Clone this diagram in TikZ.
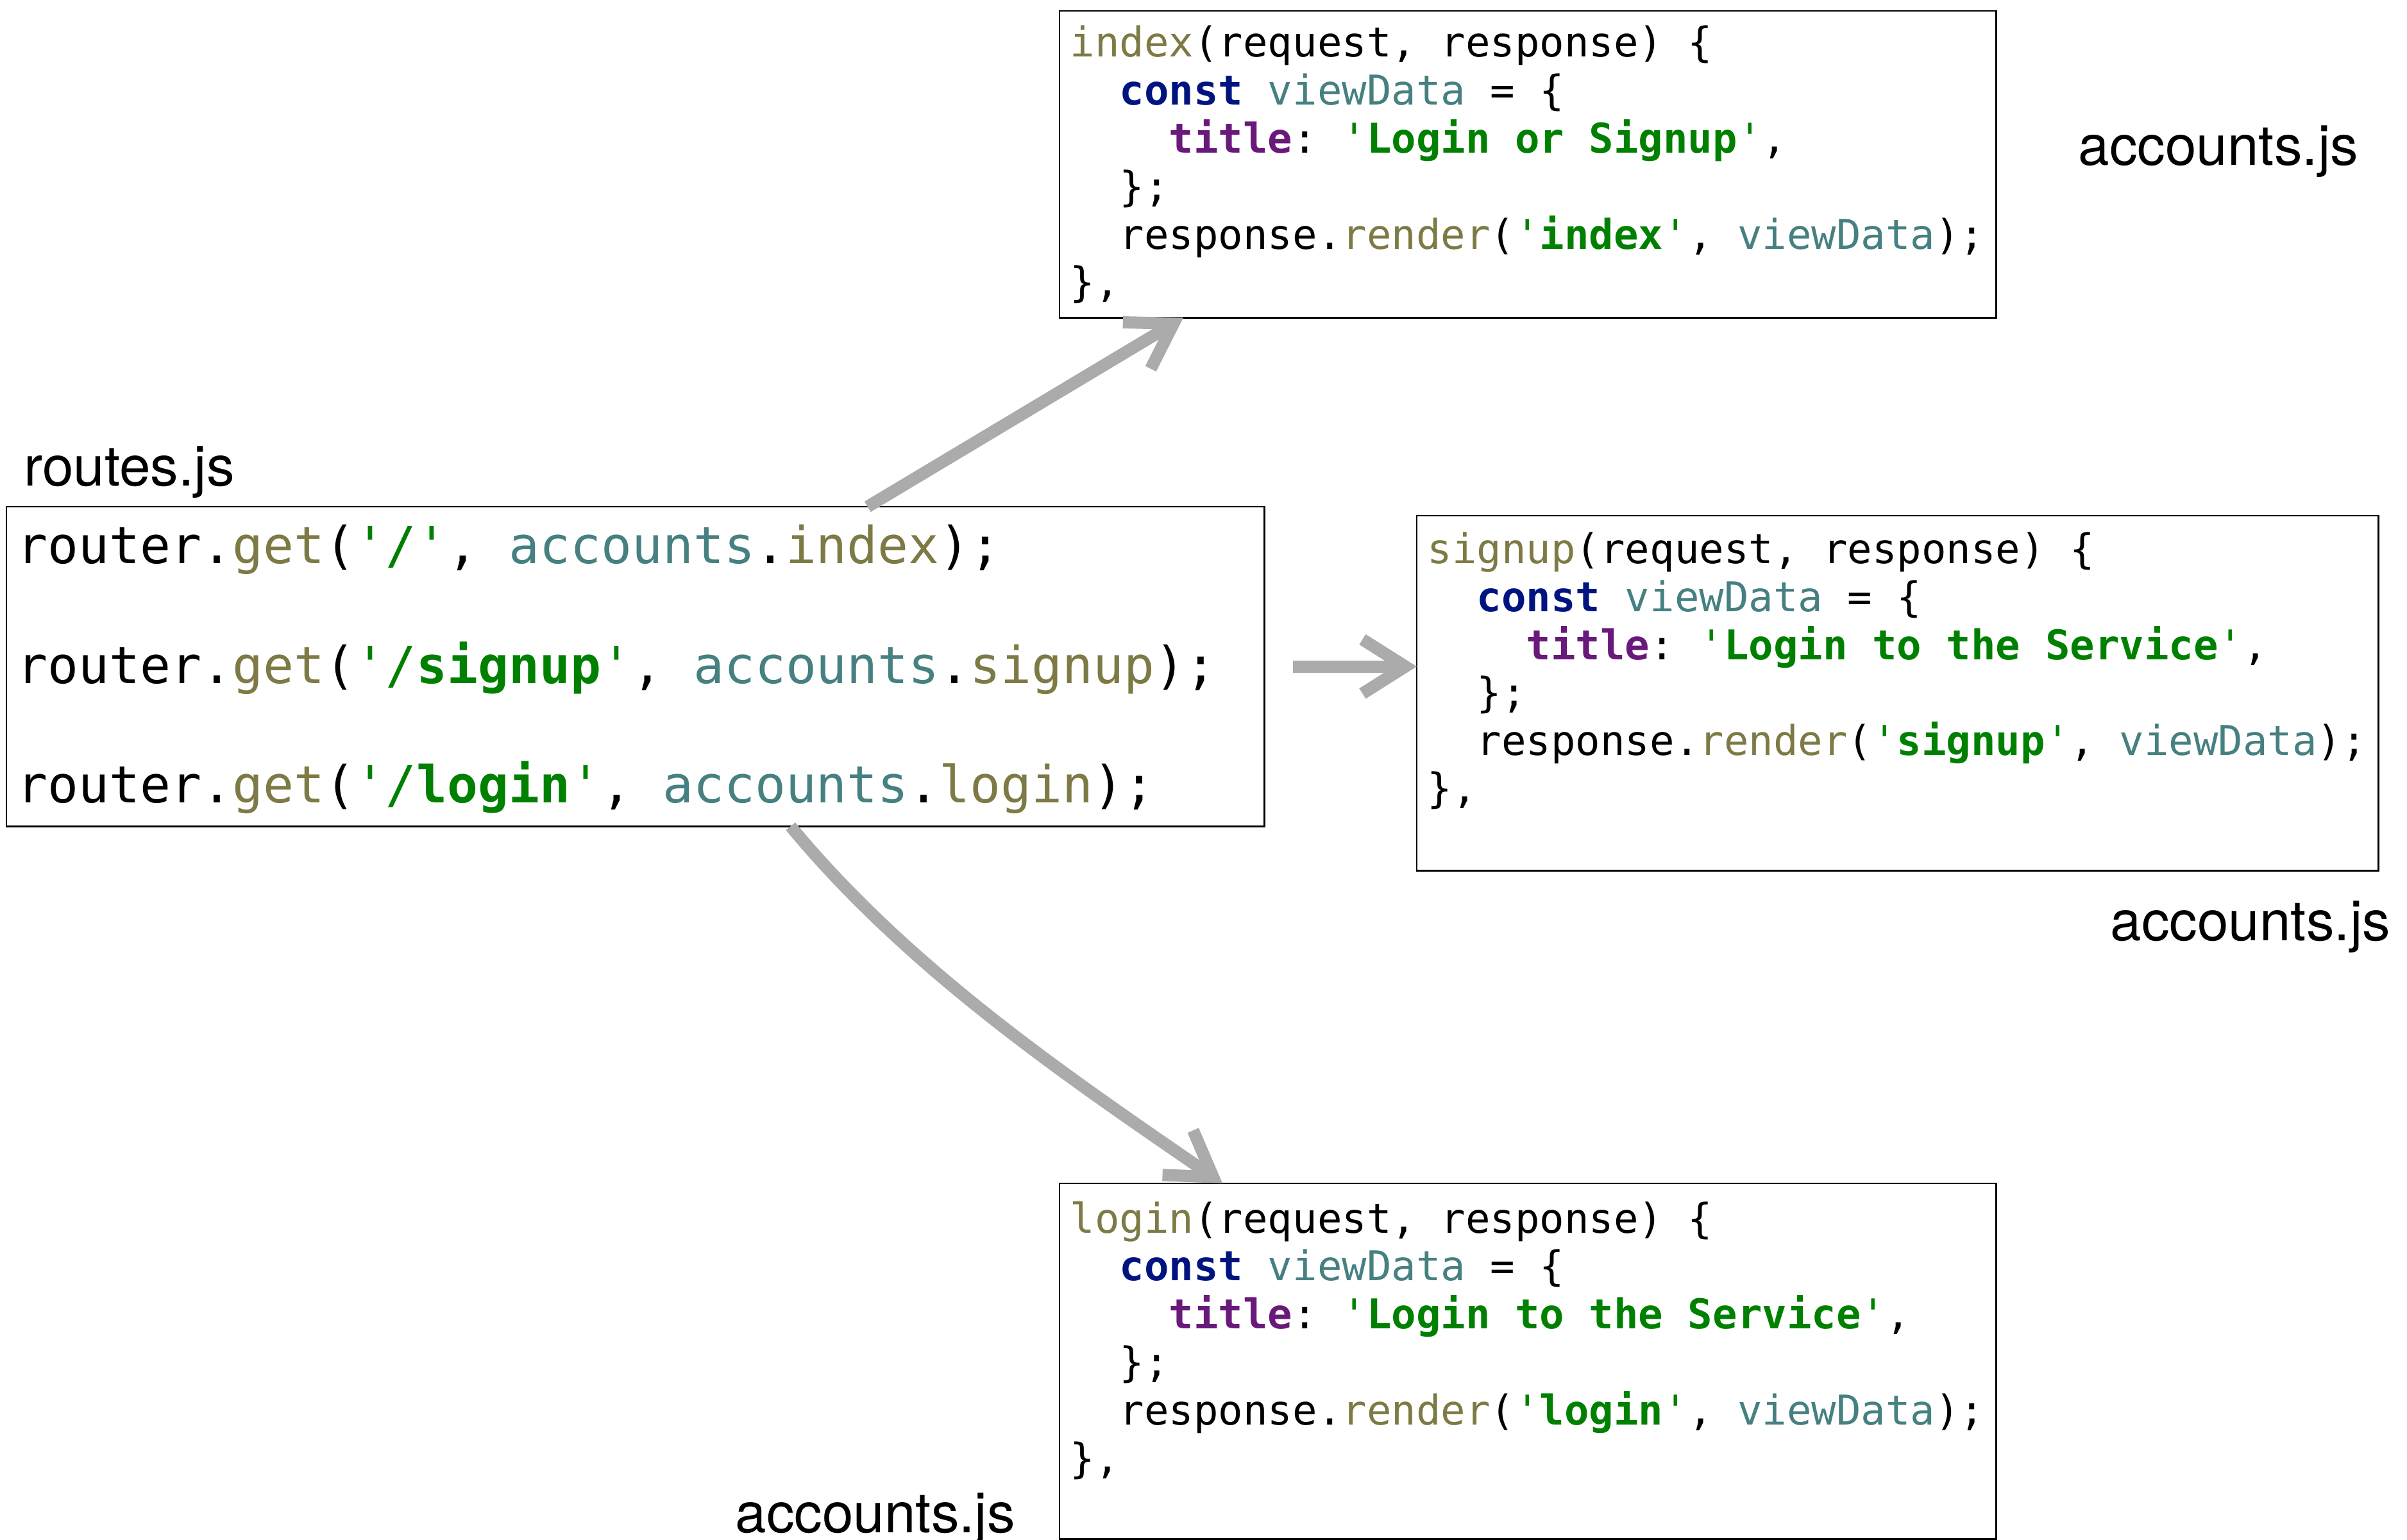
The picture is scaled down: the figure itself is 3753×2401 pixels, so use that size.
\documentclass[tikz,border=0pt]{standalone}
\usepackage{fontspec}
\usetikzlibrary{arrows.meta}
\newfontfamily\codefont{DejaVu Sans Mono}[Ligatures=TeXOff]
\newfontfamily\labfont{TeX Gyre Heros}
\definecolor{fnc}{HTML}{7D7A45}
\definecolor{varc}{HTML}{468080}
\definecolor{kwc}{HTML}{001480}
\definecolor{propc}{HTML}{69197A}
\definecolor{strc}{HTML}{008000}
\definecolor{arrowgray}{HTML}{ABABAB}
\newcommand\cF[1]{\textcolor{fnc}{#1}}
\newcommand\cV[1]{\textcolor{varc}{#1}}
\newcommand\cK[1]{\textcolor{kwc}{\bfseries #1}}
\newcommand\cP[1]{\textcolor{propc}{\bfseries #1}}
\newcommand\cS[1]{\textcolor{strc}{'\textbf{#1}'}}
\frenchspacing
\tikzset{
  box/.style={draw=black, line width=0.8pt, rectangle, inner sep=0pt, outer sep=0pt, anchor=north west},
  codeS/.style={anchor=base west, inner sep=0pt, font=\codefont\frenchspacing\fontsize{18.2pt}{21pt}\selectfont},
  codeL/.style={anchor=base west, inner sep=0pt, font=\codefont\frenchspacing\fontsize{22.64pt}{26pt}\selectfont},
  lab/.style={anchor=base west, inner sep=0pt, font=\labfont\fontsize{24.8pt}{28pt}\selectfont},
  arr/.style={draw=arrowgray, line width=5.4pt, -{Straight Barb[length=19pt,width=24pt]}}
}
\begin{document}
\begin{tikzpicture}[x=0.01cm, y=-0.01cm]
\useasboundingbox (0,0) rectangle (3753,2401);
% boxes
\node[box, minimum width=14.60cm, minimum height=4.78cm] (index) at (1652,17) {};
\node[box, minimum width=19.60cm, minimum height=4.98cm] (routes) at (10,790) {};
\node[box, minimum width=14.99cm, minimum height=5.53cm] (signup) at (2209,804) {};
\node[box, minimum width=14.60cm, minimum height=5.54cm] (login) at (1652,1845) {};
% labels
\node[lab] (lroutes) at (37,758) {routes.js};
\node[lab] (lindex) at (3240,258) {accounts.js};
\node[lab] (lsignup) at (3290,1466) {accounts.js};
\node[lab] (llogin) at (1146,2389) {accounts.js};
% routes code
\node[codeL] (r1) at (26,879) {router.\cF{get}(\textcolor{strc}{'/'}, \cV{accounts}.\cF{index});};
\node[codeL] (r2) at (26,1065.5) {router.\cF{get}(\textcolor{strc}{'/\textbf{signup}'}, \cV{accounts}.\cF{signup});};
\node[codeL] (r3) at (26,1252) {router.\cF{get}(\textcolor{strc}{'/\textbf{login}'}, \cV{accounts}.\cF{login});};
% index code
\node[codeS] (i1) at (1668,89) {\cF{index}(request, response) \{};
\node[codeS] (i2) at (1668,163.8) {~~\cK{const} \cV{viewData} = \{};
\node[codeS] (i3) at (1668,238.6) {~~~~\cP{title}: \cS{Login or Signup},};
\node[codeS] (i4) at (1668,313.4) {~~\};};
\node[codeS] (i5) at (1668,388.2) {~~response.\cF{render}(\cS{index}, \cV{viewData});};
\node[codeS] (i6) at (1668,463) {\},};
% signup code
\node[codeS] (s1) at (2225,879) {\cF{signup}(request, response) \{};
\node[codeS] (s2) at (2225,953.6) {~~\cK{const} \cV{viewData} = \{};
\node[codeS] (s3) at (2225,1028.2) {~~~~\cP{title}: \cS{Login to the Service},};
\node[codeS] (s4) at (2225,1102.8) {~~\};};
\node[codeS] (s5) at (2225,1177.4) {~~response.\cF{render}(\cS{signup}, \cV{viewData});};
\node[codeS] (s6) at (2225,1252) {\},};
% login code
\node[codeS] (g1) at (1668,1922) {\cF{login}(request, response) \{};
\node[codeS] (g2) at (1668,1996.8) {~~\cK{const} \cV{viewData} = \{};
\node[codeS] (g3) at (1668,2071.6) {~~~~\cP{title}: \cS{Login to the Service},};
\node[codeS] (g4) at (1668,2146.4) {~~\};};
\node[codeS] (g5) at (1668,2221.2) {~~response.\cF{render}(\cS{login}, \cV{viewData});};
\node[codeS] (g6) at (1668,2296) {\},};
% arrows
\draw[arr] ([xshift=13.42cm]routes.north west) -- ([xshift=1.93cm]index.south west);
\draw[arr] ([xshift=0.45cm]routes.east) -- (signup.west |- routes.east);
\draw[arr] ([xshift=12.22cm]routes.south west) .. controls (1418,1512) and (1663,1678) .. ([xshift=2.54cm]login.north west);
\end{tikzpicture}
\end{document}
